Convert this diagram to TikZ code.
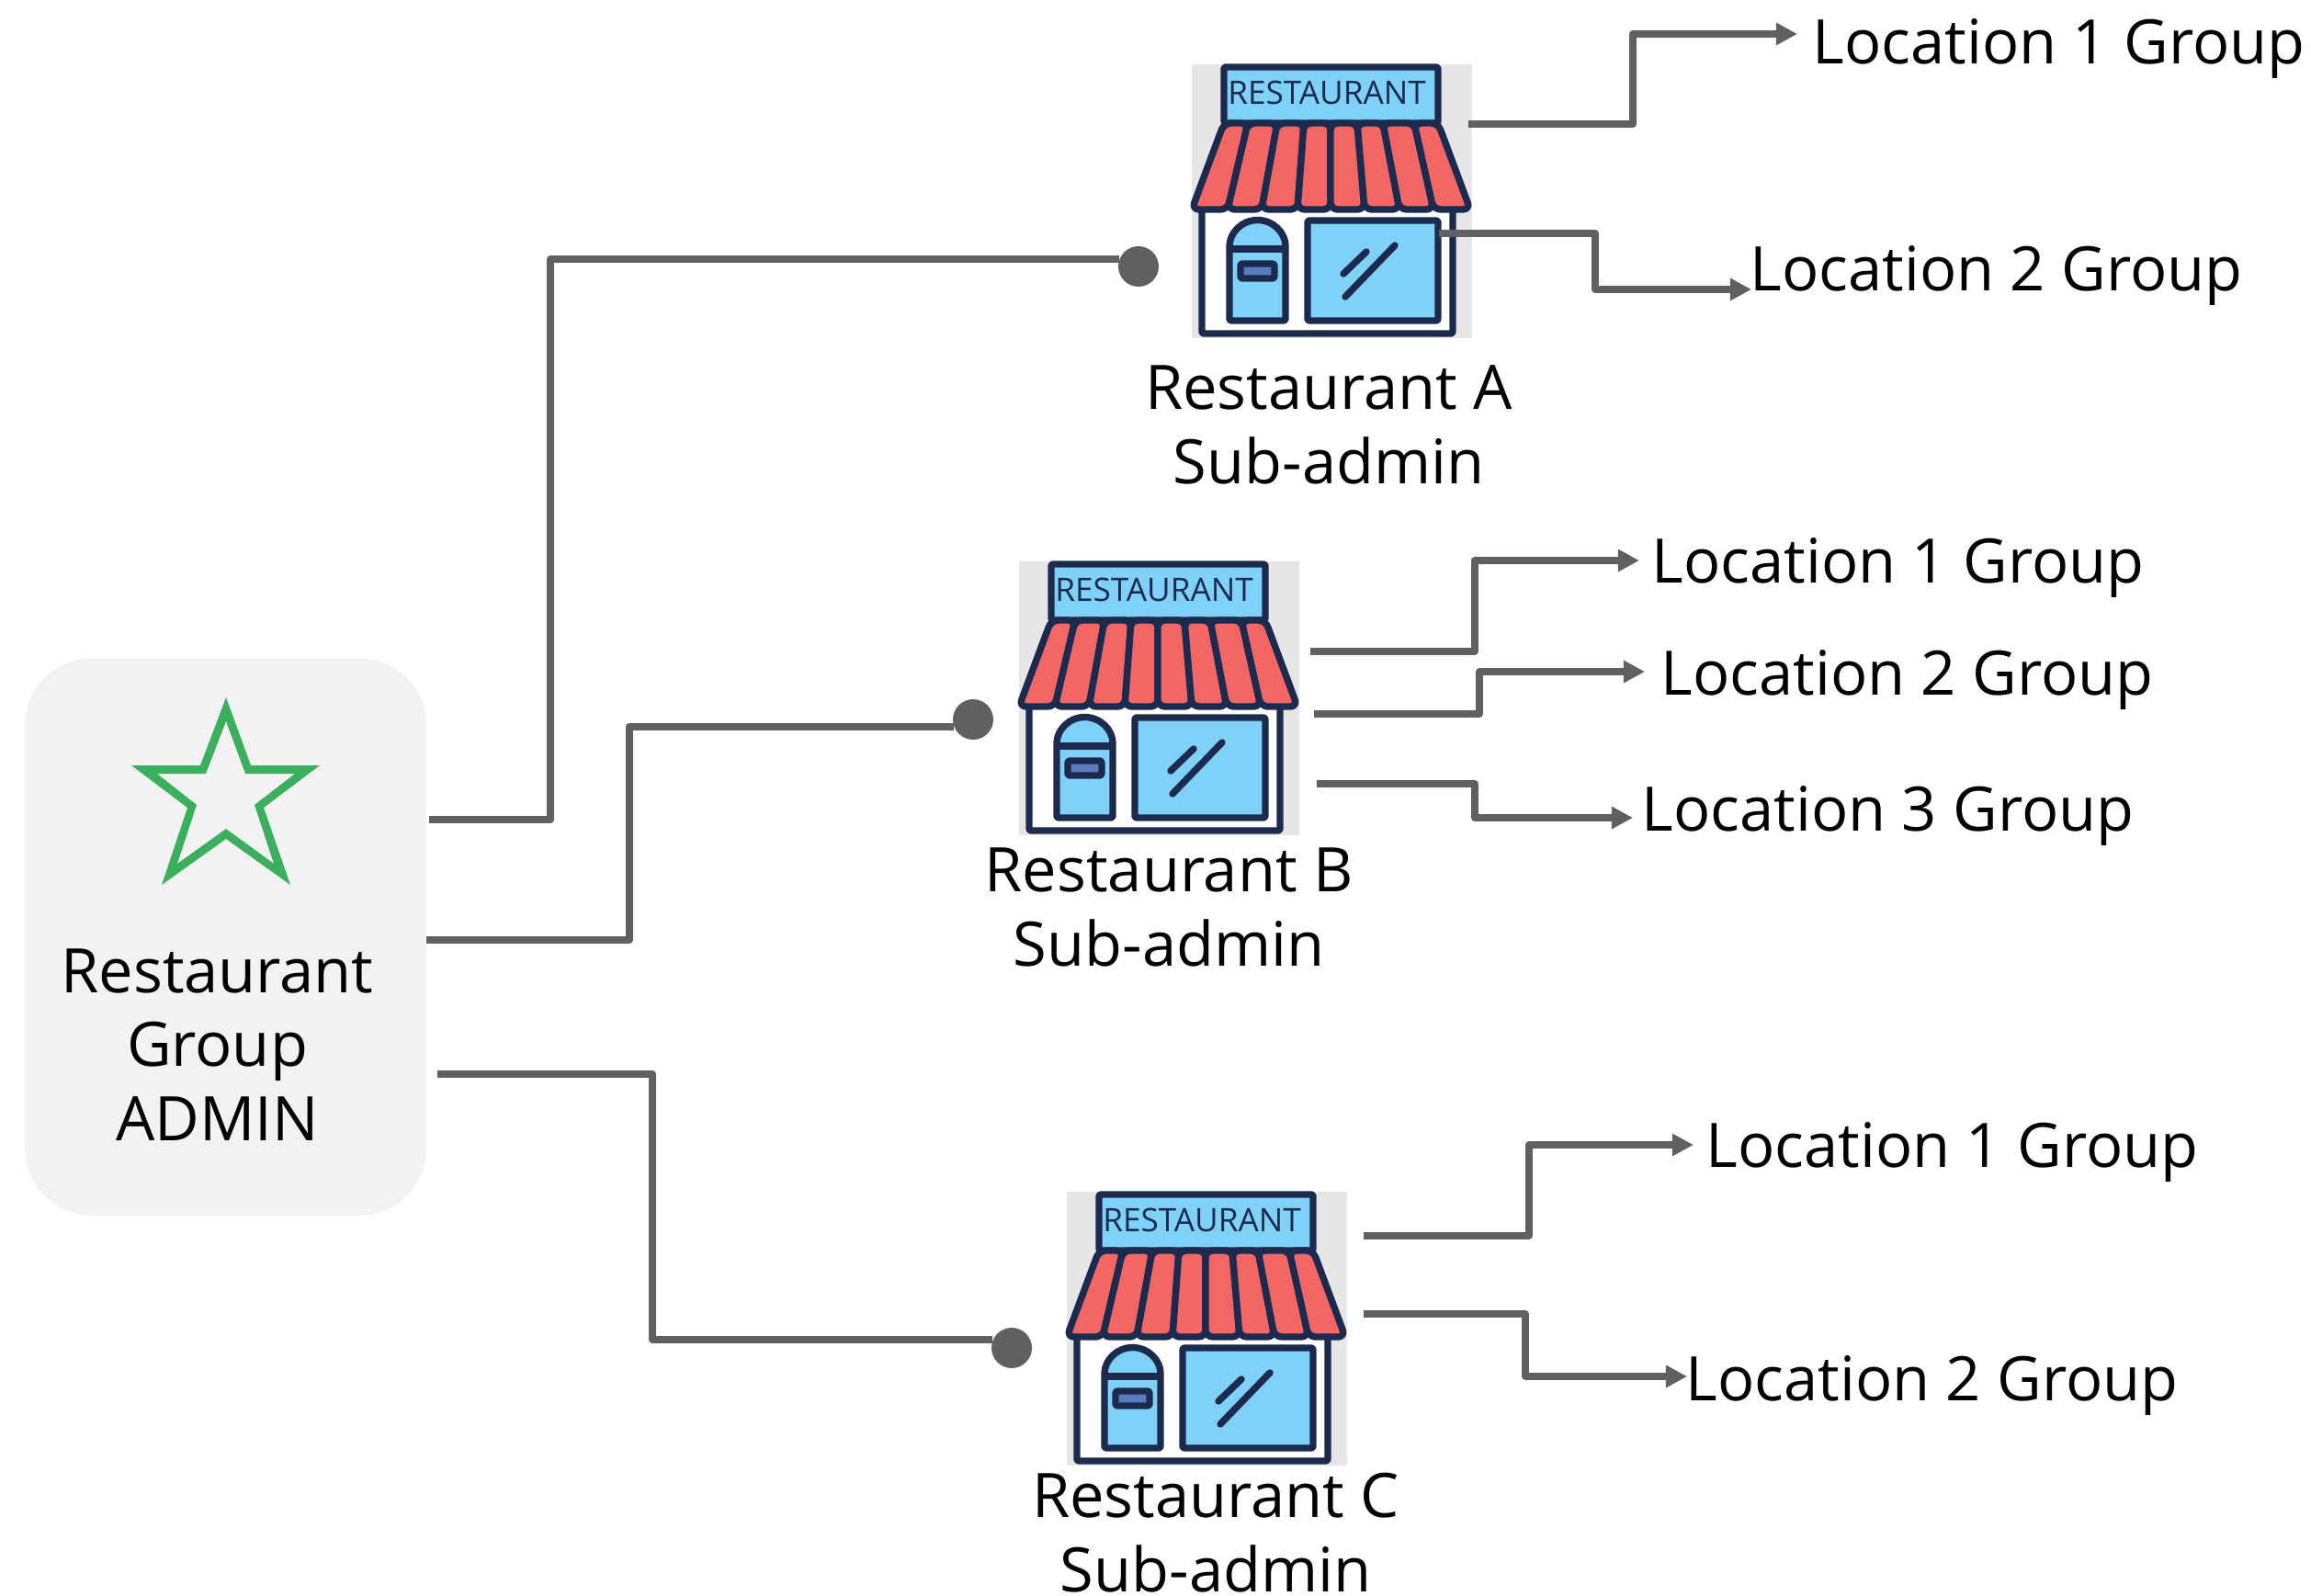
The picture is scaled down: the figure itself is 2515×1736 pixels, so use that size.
\documentclass[tikz,border=0pt]{standalone}
\usepackage{fontspec}
\setmainfont{Open Sans}
\usetikzlibrary{arrows.meta}
\definecolor{linegray}{HTML}{606060}
\definecolor{boxgray}{HTML}{F2F2F2}
\definecolor{shopgray}{HTML}{E6E6E6}
\definecolor{shopblue}{HTML}{7FD1F7}
\definecolor{shopred}{HTML}{F26666}
\definecolor{shopnavy}{HTML}{1C2B4D}
\definecolor{slotblue}{HTML}{5B7BBF}
\definecolor{stargreen}{HTML}{3BAF5D}
\tikzset{
    dot/.style={circle, fill=linegray, inner sep=0pt, minimum size=12.5pt}, % end of a main line
    branch/.style={draw=linegray, line width=2.15pt, line join=round}, % grey connectors
    arrowed/.style={branch, -{Triangle[length=6.6pt, width=6.6pt]}},
    bigtext/.style={font=\fontsize{19}{22.8}\selectfont, align=center, inner sep=0pt, anchor=base, text depth=0pt},
    loclabel/.style={font=\fontsize{19}{22.8}\selectfont, inner sep=0pt, anchor=base west},
    shopline/.style={draw=shopnavy, line width=2.1pt, line join=round, rounded corners=0.6pt},
    pics/shopicon/.style={code={
        \fill[white] (12,155) rectangle (285,294);
        \draw[shopline] (12,155) -- (12,294) -- (285,294) -- (285,155);
        \draw[shopline, fill=shopblue] (36,4) rectangle (269,65);
        \node[font=\fontsize{10}{11}\selectfont, text=shopnavy, inner sep=0pt] at (148,32) {RESTAURANT};
        \foreach \ta/\tb/\ba/\bb in {36/62/1/40, 62/94/40/77, 94/123/77/116, 123/152/116/152,
            152/181/152/189, 181/209/189/227, 209/243/227/264, 243/269/264/304} {
            \draw[shopline, fill=shopred, rounded corners=2.2pt] (\ta,65) -- (\ba,159) -- (\bb,159) -- (\tb,65) -- cycle;
        }
        \draw[shopline, fill=shopblue] (42,280) -- (42,201) arc[start angle=180, end angle=360, radius=30.5] -- (103,280) -- cycle;
        \draw[shopline] (42,202) -- (103,202);
        \draw[shopline, fill=slotblue] (54,218) rectangle (91,234);
        \draw[shopline, fill=shopblue] (127,171) rectangle (269,280);
        \draw[shopline, line cap=round] (166,229) -- (191,205) (168,254) -- (222,198);
    }}
}

\begin{document}
\begin{tikzpicture}[x=0.01cm, y=-0.01cm]
    \useasboundingbox (0,0) rectangle (2515,1736);

    % admin box on the left
    \node[fill=boxgray, rounded corners=21pt, inner sep=0pt, minimum width=437*0.01cm, minimum height=607*0.01cm] (admin) at (245.5,1019.5) {};
    \fill[stargreen, even odd rule]
        (246,759) -- (273,833) -- (348,833) -- (287,879) -- (316,963) -- (246,913) -- (176,963) -- (204,879) -- (143,833) -- (218,833) -- cycle
        (246,785) -- (267,842) -- (321,842) -- (277,876) -- (298,940) -- (246,902) -- (193,940) -- (214,876) -- (171,842) -- (224,842) -- cycle;
    \node[bigtext] (admintext) at (236.5,1241) {Restaurant\\Group\\ADMIN};

    % the three shops
    \foreach \nm/\sx/\sy/\lx/\ly/\dx/\dy in {A/1296/69/1446/526/1239/290, B/1108/610/1272/1051/1059/783, C/1160/1296/1323/1732/1101/1467} {
        \node[fill=shopgray, inner sep=0pt, minimum width=305*0.01cm, minimum height=298*0.01cm, anchor=north west] (shop\nm) at (\sx,\sy) {};
        \pic at (\sx,\sy) {shopicon};
        \node[bigtext] (name\nm) at (\lx,\ly) {Restaurant \nm\\Sub-admin};
        \node[dot] (dot\nm) at (\dx,\dy) {};
    }

    % main lines from the admin box
    \coordinate (srcA) at (467,892);
    \coordinate (srcB) at (464,1023);
    \coordinate (srcC) at (476,1169);
    \draw[branch] (srcA) -- (599,892) |- (dotA.160);
    \draw[branch] (srcB) -- (685,1023) |- (dotB.200);
    \draw[branch] (srcC) -- (710,1169) |- (dotC.156);

    % location groups
    \foreach \nm/\n/\sx/\sy/\bx/\tx/\ty/\lx/\ly in {
        A1/1/1598/135/1777/1956/37/1972/70, A2/2/1566/254/1736/1906/315/1904/316,
        B1/1/1426/709/1605/1784/610/1797/634, B2/2/1430/777/1610/1790/731/1807/756, B3/3/1433/853/1605/1777/890/1786/904,
        C1/1/1484/1345/1664/1843/1246/1856/1270, C2/2/1484/1430/1660/1836/1498/1834/1524} {
        \node[loclabel] (loc\nm) at (\lx,\ly) {Location \n{} Group};
        \coordinate (src\nm) at (\sx,\sy);
        \coordinate (tip\nm) at (\tx,\ty);
        \draw[arrowed] (src\nm) -- (\bx,\sy) |- (tip\nm);
    }
\end{tikzpicture}
\end{document}
